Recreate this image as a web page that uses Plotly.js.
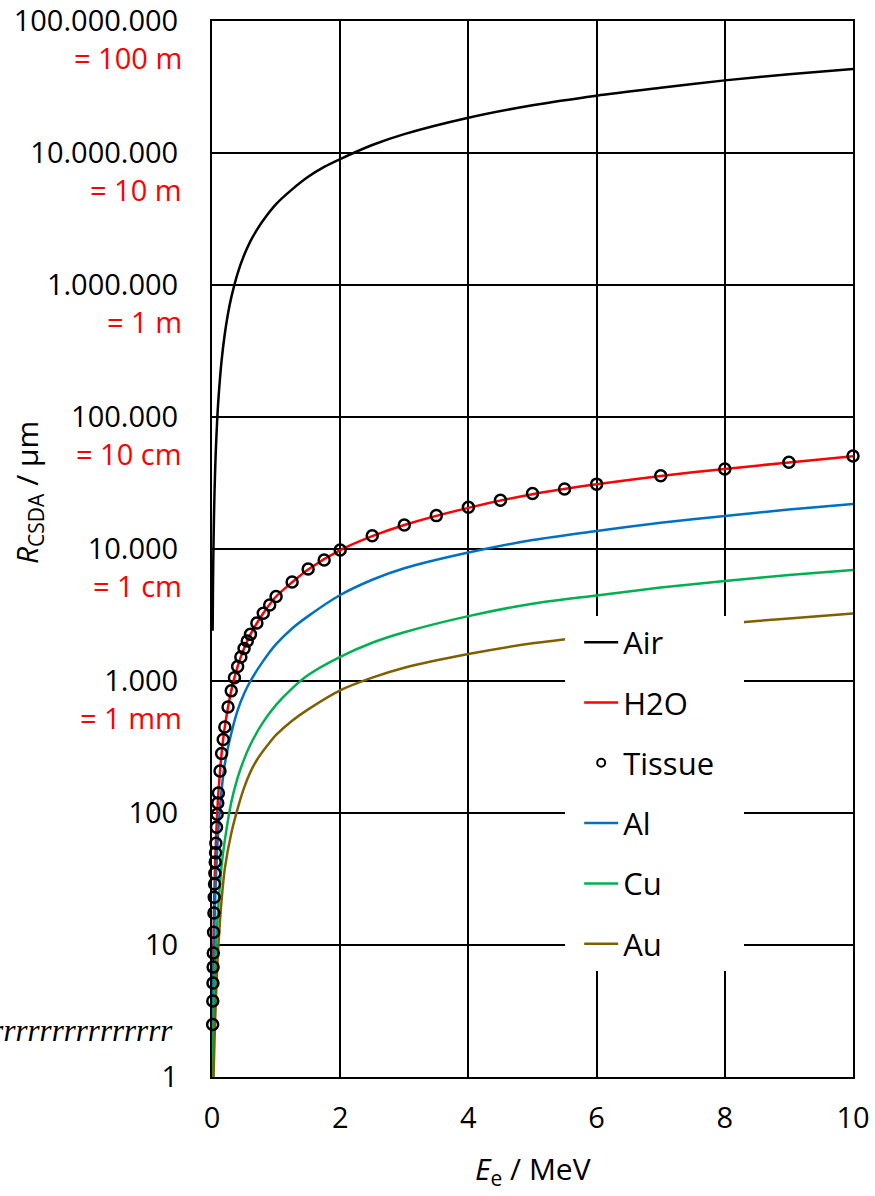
<!DOCTYPE html>
<html>
<head>
<meta charset="utf-8">
<script src="https://cdn.plot.ly/plotly-3.0.1.min.js"></script>
<style>
  html, body { margin: 0; padding: 0; background: #ffffff; }
  #chart { width: 875px; height: 1196px; }
</style>
</head>
<body>
<div id="chart"></div>
<script>
// ---------------- data (E in MeV, R_CSDA in µm) ----------------
const energyAir = [0.01, 0.015, 0.02, 0.03, 0.04, 0.05, 0.06, 0.08, 0.1, 0.15, 0.2, 0.25, 0.3, 0.4, 0.5, 0.6, 0.7, 0.8, 1.0, 1.25, 1.5, 1.75, 2, 2.5, 3, 4, 5, 6, 7, 8, 9, 10];
const rangeAir  = [2400, 4880, 8140, 16700, 27600, 41000, 56400, 92900, 136000, 268000, 427000, 608000, 802000, 1227000, 1680000, 2150000, 2620000, 3100000, 4100000, 5300000, 6600000, 7850000, 9000000, 11500000, 13900000, 18500000, 23000000, 27200000, 31200000, 35500000, 39500000, 43300000];

const energyH2O = [0.01, 0.015, 0.02, 0.03, 0.04, 0.05, 0.06, 0.08, 0.1, 0.15, 0.2, 0.3, 0.4, 0.5, 0.6, 0.8, 1.0, 1.25, 1.5, 2, 2.5, 3, 4, 5, 6, 7, 8, 9, 10];
const rangeH2O  = [2.52, 5.15, 8.58, 17.6, 29.1, 43.2, 59.3, 97.3, 143, 282, 449, 842, 1288, 1766, 2256, 3261, 4367, 5600, 7000, 9800, 12500, 15200, 20500, 26000, 30900, 35800, 40400, 45300, 50500];

const energyTissue = [0.01, 0.0125, 0.015, 0.0175, 0.02, 0.025, 0.03, 0.035, 0.04, 0.045, 0.05, 0.055, 0.06, 0.07, 0.08, 0.09, 0.1, 0.125, 0.15, 0.175, 0.2, 0.25, 0.3, 0.35, 0.4, 0.45, 0.5, 0.55, 0.6, 0.7, 0.8, 0.9, 1.0, 1.25, 1.5, 1.75, 2, 2.5, 3, 3.5, 4, 4.5, 5, 5.5, 6, 7, 8, 9, 10];
const rangeTissue  = [2.5, 3.77, 5.15, 6.8, 8.7, 12.5, 17.5, 23, 29, 35, 42.5, 50, 59, 78, 98, 119, 142, 208, 282, 361, 449, 636, 842, 1057, 1288, 1521, 1766, 2010, 2256, 2755, 3261, 3770, 4367, 5620, 7050, 8260, 9820, 12600, 15200, 17900, 20700, 23400, 26300, 28500, 31000, 35900, 40400, 45400, 50700];

const energyAl = [0.01, 0.02, 0.03, 0.05, 0.08, 0.1, 0.15, 0.2, 0.3, 0.4, 0.5, 0.6, 0.8, 1.0, 1.25, 1.5, 2.0, 2.5, 3.0, 4.0, 5.0, 6.0, 7.0, 8.0, 9.0, 10];
const rangeAl  = [1.4, 4.7, 9.5, 23, 52, 76, 150, 235, 400, 600, 800, 1000, 1420, 1900, 2500, 3100, 4480, 5850, 7150, 9400, 11700, 13700, 15800, 17800, 19900, 21900];

const energyCu = [0.01, 0.02, 0.03, 0.05, 0.08, 0.1, 0.15, 0.2, 0.3, 0.4, 0.5, 0.6, 0.8, 1.0, 1.25, 1.5, 2.0, 2.5, 3.0, 4.0, 5.0, 6.0, 7.0, 8.0, 9.0, 10];
const rangeCu  = [0.55, 1.8, 3.6, 7.5, 14, 20, 40, 62, 120, 185, 255, 330, 490, 660, 880, 1110, 1525, 1950, 2340, 3100, 3850, 4450, 5100, 5720, 6350, 6940];

const energyAu = [0.01, 0.02, 0.03, 0.05, 0.08, 0.1, 0.15, 0.2, 0.3, 0.4, 0.5, 0.6, 0.7, 0.8, 0.9, 1.0, 1.25, 1.5, 2.0, 2.5, 3.0, 4.0, 5.0, 6.0, 7.0, 8.0, 9.0, 10];
const rangeAu  = [0.3, 0.8, 1.3, 2.8, 6.5, 10, 22, 38, 70, 108, 155, 205, 252, 296, 342, 390, 500, 610, 850, 1060, 1260, 1600, 1930, 2200, 2470, 2720, 2980, 3240];

const seriesNames = ['Air', 'H2O', 'Tissue', 'Al', 'Cu', 'Au'];

const yTickVals = [1, 10, 100, 1000, 10000, 100000, 1000000, 10000000, 100000000];
const yTickText = ['1', '10', '100', '1.000', '10.000', '100.000', '1.000.000', '10.000.000', '100.000.000'];
const unitVals  = [1000, 10000, 100000, 1000000, 10000000, 100000000];
const unitText  = ['= 1 mm', '= 1 cm', '= 10 cm', '= 1 m', '= 10 m', '= 100 m'];
const xTickVals = [0, 2, 4, 6, 8, 10];
const xTickText = ['0', '2', '4', '6', '8', '10'];

// ---------------- styles ----------------
const FONT = 'Open Sans, Noto Sans, sans-serif';
const colors = { Air: '#000000', H2O: '#FF0000', Tissue: '#000000', Al: '#0070C0', Cu: '#00B050', Au: '#7F6000' };
const LW = 2.5;

function lineTrace(name, x, y, group) {
  return { type: 'scatter', mode: 'lines', name: name, x: x, y: y,
           line: { color: colors[name], width: LW, shape: 'spline', smoothing: 0.8 },
           legendgroup: group, hoverinfo: 'skip' };
}

const traces = [
  lineTrace(seriesNames[0], energyAir, rangeAir, 'g1'),
  lineTrace(seriesNames[1], energyH2O, rangeH2O, 'g2'),
  // legend-only entry for Tissue (smaller symbol as in the reference legend; trailing spaces widen the white legend box)
  { type: 'scatter', mode: 'markers', name: seriesNames[2] + '&nbsp;&nbsp;&nbsp;', x: [null], y: [null],
    marker: { symbol: 'circle-open', size: 8, color: '#000000', line: { width: 2, color: '#000000' } },
    legendgroup: 'g3', hoverinfo: 'skip' },
  lineTrace(seriesNames[3], energyAl, rangeAl, 'g4'),
  lineTrace(seriesNames[4], energyCu, rangeCu, 'g5'),
  lineTrace(seriesNames[5], energyAu, rangeAu, 'g6'),
  { type: 'scatter', mode: 'markers', name: seriesNames[2], x: energyTissue, y: rangeTissue,
    marker: { symbol: 'circle-open', size: 11, color: '#000000', line: { width: 2.5, color: '#000000' } },
    showlegend: false, legendgroup: 'g3', hoverinfo: 'skip', cliponaxis: false }
];

const annotations = [];
unitVals.forEach(function (v, i) {
  annotations.push({ xref: 'paper', yref: 'y', x: 0, y: Math.log10(v), xanchor: 'right', yanchor: 'middle',
    xshift: -28, yshift: -36, text: unitText[i], showarrow: false,
    font: { family: FONT, size: 29, color: '#FF0000' } });
});
// y-axis title
annotations.push({ xref: 'paper', yref: 'paper', x: -0.287, y: 0.553, xanchor: 'center', yanchor: 'middle',
  textangle: -90, showarrow: false, text: '<i>R</i><sub>CSDA</sub> / µm',
  font: { family: FONT, size: 30, color: '#000000' } });
// x-axis title
annotations.push({ xref: 'paper', yref: 'paper', x: 0.5, y: -0.088, xanchor: 'center', yanchor: 'middle',
  showarrow: false, text: '<i>E</i><sub>e</sub> / MeV',
  font: { family: FONT, size: 30, color: '#000000' } });
// stray italic text at the left edge
annotations.push({ xref: 'paper', yref: 'paper', x: 0, y: 0.0445, xanchor: 'right', yanchor: 'middle',
  xshift: -37, showarrow: false, text: '<i>rrrrrrrrrrrrrrrrrrrr</i>',
  font: { family: 'Liberation Serif, DejaVu Serif, serif', size: 31, color: '#000000' } });

const layout = {
  width: 875, height: 1196,
  margin: { l: 212, r: 22, t: 21, b: 119, pad: 0 },
  paper_bgcolor: '#ffffff', plot_bgcolor: '#ffffff',
  font: { family: FONT, size: 29, color: '#000000' },
  showlegend: true,
  legend: {
    x: 0.551, y: 0.437, xanchor: 'left', yanchor: 'top',
    bgcolor: '#ffffff', borderwidth: 0,
    font: { family: FONT, size: 31, color: '#000000' },
    tracegroupgap: 17, indentation: 14, itemwidth: 34, itemclick: false
  },
  xaxis: {
    range: [0, 10], tickvals: xTickVals, ticktext: xTickText,
    showgrid: true, gridcolor: '#000000', gridwidth: 2,
    showline: true, linecolor: '#000000', linewidth: 2, mirror: true,
    zeroline: false, ticks: '', ticklabelstandoff: 14,
    tickfont: { family: FONT, size: 29, color: '#000000' }
  },
  yaxis: {
    type: 'log', range: [0, 8], tickvals: yTickVals, ticktext: yTickText,
    showgrid: true, gridcolor: '#000000', gridwidth: 2,
    showline: true, linecolor: '#000000', linewidth: 2, mirror: true,
    zeroline: false, ticks: '', ticklabelstandoff: 26,
    tickfont: { family: FONT, size: 29, color: '#000000' }
  },
  annotations: annotations
};

Plotly.newPlot('chart', traces, layout, { displayModeBar: false, staticPlot: true });
</script>
</body>
</html>
